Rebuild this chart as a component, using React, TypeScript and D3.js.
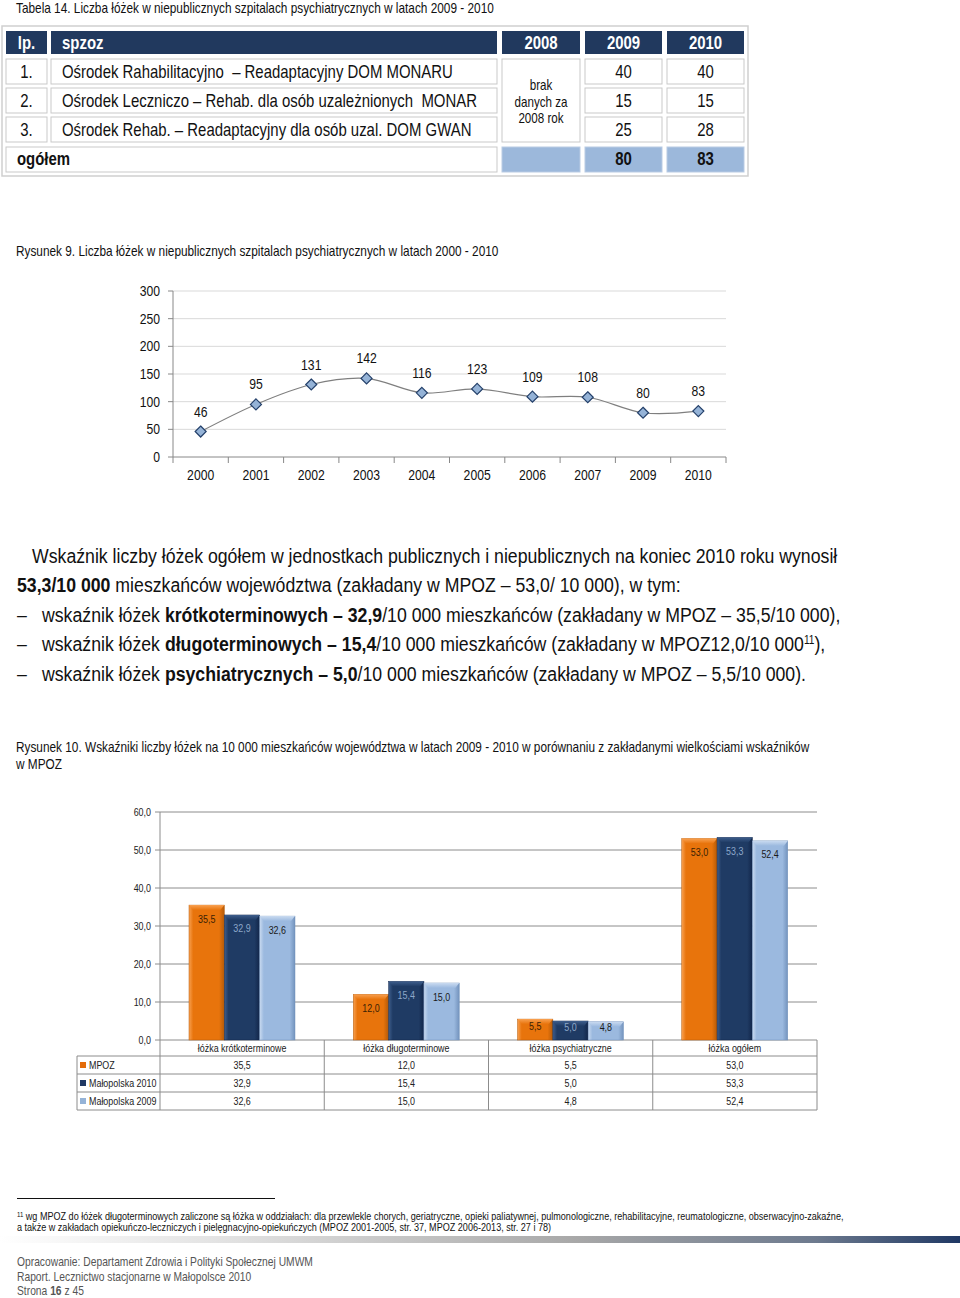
import React from "react";
import * as d3 from "d3";

const FONT = "'Liberation Sans', Arial, sans-serif";

// ---- Table 14 data
const tableLp = ["1.", "2.", "3."];
const tableNames = [
  "Ośrodek Rahabilitacyjno\u00a0 – Readaptacyjny DOM MONARU",
  "Ośrodek Leczniczo – Rehab. dla osób uzależnionych\u00a0 MONAR",
  "Ośrodek Rehab. – Readaptacyjny dla osób uzal. DOM GWAN",
];
const tableHeaders = ["lp.", "spzoz", "2008", "2009", "2010"];
const beds2009 = [40, 15, 25];
const beds2010 = [40, 15, 28];
const totals = [80, 83];

// ---- Figure 9 data
const years = ["2000", "2001", "2002", "2003", "2004", "2005", "2006", "2007", "2009", "2010"];
const bedsByYear = [46, 95, 131, 142, 116, 123, 109, 108, 80, 83];
const lineTicks = [0, 50, 100, 150, 200, 250, 300];

// ---- Figure 10 data
const barCategories = ["łóżka krótkoterminowe", "łóżka długoterminowe", "łóżka psychiatryczne", "łóżka ogółem"];
const seriesNames = ["MPOZ", "Małopolska 2010", "Małopolska 2009"];
const mpoz = [35.5, 12.0, 5.5, 53.0];
const mal2010 = [32.9, 15.4, 5.0, 53.3];
const mal2009 = [32.6, 15.0, 4.8, 52.4];
const barTicks = [0, 10, 20, 30, 40, 50, 60];

const seriesValues = [mpoz, mal2010, mal2009];
const seriesStyle = [
  { base: "#E8740C", light: "#F8A050", dark: "#B45A08", label: "#3a1f05", key: "#E46C0A" },
  { base: "#1F3B64", light: "#3E5E8C", dark: "#12264A", label: "#8DA8CA", key: "#1F3864" },
  { base: "#9BB9DF", light: "#C9DAF0", dark: "#7393BD", label: "#1a1a1a", key: "#95B3D7" },
];

const fmt = (v: number) => v.toFixed(1).replace(".", ",");

// narrow text: horizontally condensed to imitate Arial Narrow
function T(props: any) {
  const { x, y, sx = 0.83, children, ...rest } = props;
  return (
    <text transform={`translate(${x},${y}) scale(${sx},1)`} {...rest}>
      {children}
    </text>
  );
}

function Table14() {
  const cols = [
    [6, 47],
    [51, 497],
    [502, 580],
    [585, 662],
    [667, 744],
  ];
  const rows = [
    [59, 84],
    [88, 113],
    [117, 142],
  ];
  const header = [31, 54];
  const total = [147, 172];
  const cellStroke = "#c9c9c9";
  const txt = 18;
  const sx = 0.83;
  return (
    <g>
      <T x={16} y={13} fontSize={14} sx={0.845} fill="#111">
        Tabela 14. Liczba łóżek w niepublicznych szpitalach psychiatrycznych w latach 2009 - 2010
      </T>
      <rect x={2} y={26} width={746} height={150} fill="#fff" stroke="#cfcfcf" strokeWidth={1.5} />
      {tableHeaders.map((h, i) => (
        <g key={h}>
          <rect x={cols[i][0]} y={header[0]} width={cols[i][1] - cols[i][0]} height={header[1] - header[0]} fill="#21395E" />
          <T
            x={i === 1 ? 62 : (cols[i][0] + cols[i][1]) / 2}
            y={49}
            sx={sx}
            fontSize={18}
            fontWeight="bold"
            fill="#fff"
            textAnchor={i === 1 ? "start" : "middle"}
          >
            {h}
          </T>
        </g>
      ))}
      {rows.map((r, ri) => (
        <g key={ri}>
          <rect x={cols[0][0]} y={r[0]} width={cols[0][1] - cols[0][0]} height={r[1] - r[0]} fill="#fff" stroke={cellStroke} />
          <rect x={cols[1][0]} y={r[0]} width={cols[1][1] - cols[1][0]} height={r[1] - r[0]} fill="#fff" stroke={cellStroke} />
          <rect x={cols[3][0]} y={r[0]} width={cols[3][1] - cols[3][0]} height={r[1] - r[0]} fill="#fff" stroke={cellStroke} />
          <rect x={cols[4][0]} y={r[0]} width={cols[4][1] - cols[4][0]} height={r[1] - r[0]} fill="#fff" stroke={cellStroke} />
          <T x={(cols[0][0] + cols[0][1]) / 2} y={r[0] + 19} sx={sx} fontSize={txt} textAnchor="middle" fill="#111">
            {tableLp[ri]}
          </T>
          <T x={62} y={r[0] + 19} sx={sx} fontSize={txt} fill="#111">
            {tableNames[ri]}
          </T>
          <T x={(cols[3][0] + cols[3][1]) / 2} y={r[0] + 19} sx={sx} fontSize={txt} textAnchor="middle" fill="#111">
            {beds2009[ri]}
          </T>
          <T x={(cols[4][0] + cols[4][1]) / 2} y={r[0] + 19} sx={sx} fontSize={txt} textAnchor="middle" fill="#111">
            {beds2010[ri]}
          </T>
        </g>
      ))}
      <rect x={cols[2][0]} y={rows[0][0]} width={cols[2][1] - cols[2][0]} height={rows[2][1] - rows[0][0]} fill="#fff" stroke={cellStroke} />
      {["brak", "danych za", "2008 rok"].map((t, i) => (
        <T key={t} x={541} y={90 + i * 16.5} sx={sx} fontSize={14} textAnchor="middle" fill="#111">
          {t}
        </T>
      ))}
      <rect x={cols[0][0]} y={total[0]} width={cols[1][1] - cols[0][0]} height={total[1] - total[0]} fill="#fff" stroke={cellStroke} />
      <T x={17} y={165} sx={sx} fontSize={18} fontWeight="bold" fill="#111">
        ogółem
      </T>
      {[2, 3, 4].map((c) => (
        <rect key={c} x={cols[c][0]} y={total[0]} width={cols[c][1] - cols[c][0]} height={total[1] - total[0]} fill="#9CB8DB" stroke="#b9cbe3" />
      ))}
      {totals.map((t, i) => (
        <T key={i} x={(cols[3 + i][0] + cols[3 + i][1]) / 2} y={165} sx={sx} fontSize={18} fontWeight="bold" textAnchor="middle" fill="#111">
          {t}
        </T>
      ))}
    </g>
  );
}

function Figure9() {
  const x = d3.scaleBand<string>().domain(years).range([173, 726]);
  const y = d3.scaleLinear().domain([0, 300]).range([457, 291]);
  const line = d3
    .line<number>()
    .x((_, i) => (x(years[i]) as number) + x.bandwidth() / 2)
    .y((d) => y(d))
    .curve(d3.curveCardinal.tension(0));
  const diamond = (cx: number, cy: number, r: number) =>
    `M${cx},${cy - r}L${cx + r},${cy}L${cx},${cy + r}L${cx - r},${cy}Z`;
  const sx = 0.87;
  return (
    <g>
      <T x={16} y={256} fontSize={14} sx={0.845} fill="#111">
        Rysunek 9. Liczba łóżek w niepublicznych szpitalach psychiatrycznych w latach 2000 - 2010
      </T>
      {lineTicks.map((t) => (
        <g key={t}>
          {t > 0 && <line x1={173} x2={726} y1={y(t)} y2={y(t)} stroke="#d9d9d9" strokeWidth={1} />}
          <line x1={168} x2={173} y1={y(t)} y2={y(t)} stroke="#888" />
          <T x={160} y={y(t) + 5} sx={sx} fontSize={14} textAnchor="end" fill="#111">
            {t}
          </T>
        </g>
      ))}
      <line x1={173} x2={173} y1={291} y2={457} stroke="#888" />
      <line x1={173} x2={726} y1={457} y2={457} stroke="#888" />
      {years.map((yr) => (
        <line key={"t" + yr} x1={x(yr) as number} x2={x(yr) as number} y1={457} y2={463} stroke="#888" />
      ))}
      <line x1={726} x2={726} y1={457} y2={463} stroke="#888" />
      {years.map((yr) => (
        <T key={yr} x={(x(yr) as number) + x.bandwidth() / 2} y={480} sx={sx} fontSize={14} textAnchor="middle" fill="#111">
          {yr}
        </T>
      ))}
      <path d={line(bedsByYear) || ""} fill="none" stroke="#7f7f7f" strokeWidth={1.2} />
      {bedsByYear.map((v, i) => {
        const cx = (x(years[i]) as number) + x.bandwidth() / 2;
        const cy = y(v);
        return (
          <g key={i}>
            <path d={diamond(cx, cy, 5.5)} fill="#95B3D7" stroke="#24406A" strokeWidth={1.2} />
            <T x={cx} y={cy - 15} sx={sx} fontSize={14} textAnchor="middle" fill="#111">
              {v}
            </T>
          </g>
        );
      })}
    </g>
  );
}

function Paragraph() {
  const fs = 21;
  const sx = 0.843;
  return (
    <g fontSize={fs} fill="#111">
      <T x={32} y={563} sx={sx}>
        Wskaźnik liczby łóżek ogółem w jednostkach publicznych i niepublicznych na koniec 2010 roku wynosił
      </T>
      <T x={17} y={592} sx={sx}>
        <tspan fontWeight="bold">53,3/10 000</tspan> mieszkańców województwa (zakładany w MPOZ – 53,0/ 10 000), w tym:
      </T>
      <T x={17} y={622} sx={sx}>–</T>
      <T x={42} y={622} sx={sx}>
        wskaźnik łóżek <tspan fontWeight="bold">krótkoterminowych – 32,9</tspan>/10 000 mieszkańców (zakładany w MPOZ – 35,5/10 000),
      </T>
      <T x={17} y={651} sx={sx}>–</T>
      <T x={42} y={651} sx={sx}>
        wskaźnik łóżek <tspan fontWeight="bold">długoterminowych – 15,4</tspan>/10 000 mieszkańców (zakładany w MPOZ12,0/10 000
        <tspan fontSize={12} dy={-7}>11</tspan>
        <tspan dy={7}>),</tspan>
      </T>
      <T x={17} y={681} sx={sx}>–</T>
      <T x={42} y={681} sx={sx}>
        wskaźnik łóżek <tspan fontWeight="bold">psychiatrycznych – 5,0</tspan>/10 000 mieszkańców (zakładany w MPOZ – 5,5/10 000).
      </T>
    </g>
  );
}

function Figure10() {
  const x0 = d3.scaleBand<string>().domain(barCategories).range([160, 817]);
  const x1 = d3.scaleBand<number>().domain([0, 1, 2]).range([29, 135]);
  const y = d3.scaleLinear().domain([0, 60]).range([1040, 812]);
  const rowY = [1056, 1074, 1092, 1110];
  const sx = 0.85;
  const fs = 10.5;
  return (
    <g>
      <defs>
        {seriesStyle.map((s, i) => (
          <g key={i}>
            <linearGradient id={"bh" + i} x1="0" x2="1" y1="0" y2="0">
              <stop offset="0%" stopColor={s.light} />
              <stop offset="12%" stopColor={s.base} />
              <stop offset="85%" stopColor={s.base} />
              <stop offset="100%" stopColor={s.dark} />
            </linearGradient>
            <linearGradient id={"bt" + i} x1="0" x2="0" y1="0" y2="1">
              <stop offset="0%" stopColor={s.light} />
              <stop offset="100%" stopColor={s.base} />
            </linearGradient>
          </g>
        ))}
      </defs>
      <T x={16} y={752} fontSize={14} sx={0.845} fill="#111">
        Rysunek 10. Wskaźniki liczby łóżek na 10 000 mieszkańców województwa w latach 2009 - 2010 w porównaniu z zakładanymi wielkościami wskaźników
      </T>
      <T x={16} y={769} fontSize={14} sx={0.845} fill="#111">
        w MPOZ
      </T>
      {barTicks.map((t) => (
        <g key={t}>
          {t > 0 && <line x1={160} x2={817} y1={y(t)} y2={y(t)} stroke="#8c8c8c" />}
          <line x1={155} x2={160} y1={y(t)} y2={y(t)} stroke="#8c8c8c" />
          <T x={151} y={y(t) + 3.5} sx={sx} fontSize={fs} textAnchor="end" fill="#222">
            {fmt(t)}
          </T>
        </g>
      ))}
      <line x1={160} x2={160} y1={812} y2={1110} stroke="#8c8c8c" />
      <line x1={160} x2={817} y1={1040} y2={1040} stroke="#8c8c8c" />
      {barCategories.map((c) => {
        const gx = x0(c) as number;
        return (
          <g key={c}>
            <line x1={gx + x0.bandwidth()} x2={gx + x0.bandwidth()} y1={1040} y2={1110} stroke="#8c8c8c" />
            <T x={gx + x0.bandwidth() / 2} y={1052} sx={sx} fontSize={fs} textAnchor="middle" fill="#222">
              {c}
            </T>
          </g>
        );
      })}
      {seriesValues.map((vals, si) =>
        barCategories.map((c, ci) => {
          const v = vals[ci];
          const bx = (x0(c) as number) + (x1(si) as number);
          const bw = x1.bandwidth();
          const top = y(v);
          const h = 1040 - top;
          const ly = top + Math.min(14, h / 2 - 3) + 3.5;
          return (
            <g key={si + "-" + ci}>
              <rect x={bx} y={top} width={bw} height={h} fill={`url(#bh${si})`} stroke={seriesStyle[si].dark} strokeWidth={0.5} />
              <path
                d={`M${bx},${top}L${bx + bw},${top}L${bx + bw - 4},${top + 5}L${bx + 4},${top + 5}Z`}
                fill={`url(#bt${si})`}
              />
              <T x={bx + bw / 2} y={ly} sx={sx} fontSize={fs} textAnchor="middle" fill={seriesStyle[si].label}>
                {fmt(v)}
              </T>
            </g>
          );
        })
      )}
      <line x1={77} x2={77} y1={1056} y2={1110} stroke="#8c8c8c" />
      {rowY.map((ry) => (
        <line key={ry} x1={77} x2={817} y1={ry} y2={ry} stroke="#8c8c8c" />
      ))}
      {seriesNames.map((n, si) => (
        <g key={n}>
          <rect x={80} y={rowY[si] + 6} width={6} height={6} fill={seriesStyle[si].key} />
          <T x={89} y={rowY[si] + 12.5} sx={sx} fontSize={fs} fill="#222">
            {n}
          </T>
          {barCategories.map((c, ci) => (
            <T key={c} x={(x0(c) as number) + x0.bandwidth() / 2} y={rowY[si] + 12.5} sx={sx} fontSize={fs} textAnchor="middle" fill="#222">
              {fmt(seriesValues[si][ci])}
            </T>
          ))}
        </g>
      ))}
    </g>
  );
}

function Footer() {
  const sx = 0.865;
  return (
    <g>
      <defs>
        <linearGradient id="footbar" x1="0" x2="1" y1="0" y2="0">
          <stop offset="0%" stopColor="#ffffff" />
          <stop offset="25%" stopColor="#e0e0e0" />
          <stop offset="60%" stopColor="#a8a8a8" />
          <stop offset="85%" stopColor="#6d7a8e" />
          <stop offset="100%" stopColor="#1F3864" />
        </linearGradient>
      </defs>
      <line x1={17} x2={275} y1={1198.5} y2={1198.5} stroke="#111" />
      <T x={17} y={1220} sx={sx} fontSize={10.5} fill="#111">
        <tspan fontSize={7} dy={-3}>11</tspan>
        <tspan dy={3}> wg MPOZ do łóżek długoterminowych zaliczone są łóżka w oddziałach: dla przewlekle chorych, geriatryczne, opieki paliatywnej, pulmonologiczne, rehabilitacyjne, reumatologiczne, obserwacyjno-zakaźne,</tspan>
      </T>
      <T x={17} y={1231} sx={sx} fontSize={10.5} fill="#111">
        a także w zakładach opiekuńczo-leczniczych i pielęgnacyjno-opiekuńczych (MPOZ 2001-2005, str. 37, MPOZ 2006-2013, str. 27 i 78)
      </T>
      <rect x={0} y={1236} width={960} height={7} fill="url(#footbar)" />
      <g fontSize={12.5} fill="#555">
        <T x={17} y={1266} sx={0.823}>Opracowanie: Departament Zdrowia i Polityki Społecznej UMWM</T>
        <T x={17} y={1281} sx={0.823}>Raport. Lecznictwo stacjonarne w Małopolsce 2010</T>
        <T x={17} y={1295} sx={0.823}>
          Strona <tspan fontWeight="bold">16</tspan> z 45
        </T>
      </g>
    </g>
  );
}

export default function App() {
  return (
    <svg
      width={960}
      height={1298}
      viewBox="0 0 960 1298"
      style={{ position: "absolute", left: 0, top: 0, background: "#fff" }}
      fontFamily={FONT}
    >
      <rect x={0} y={0} width={960} height={1298} fill="#fff" />
      <Table14 />
      <Figure9 />
      <Paragraph />
      <Figure10 />
      <Footer />
    </svg>
  );
}
